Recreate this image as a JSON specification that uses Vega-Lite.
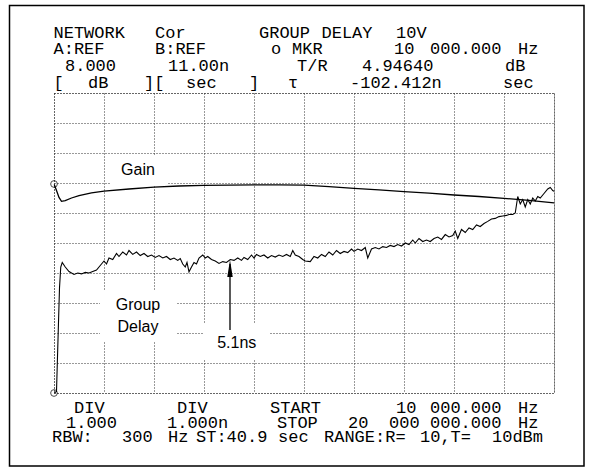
{
  "$schema": "https://vega.github.io/schema/vega-lite/v6.json",
  "width": 500,
  "height": 300,
  "autosize": "none",
  "padding": {"left": 54, "top": 93, "right": 42, "bottom": 78},
  "background": "white",
  "config": {
    "view": {"stroke": "#333", "strokeDash": [1, 2], "strokeWidth": 1}
  },
  "datasets": {
    "gain": [
      {"f": 0.01, "gain": 4.95}, {"f": 0.1, "gain": 4.75}, {"f": 0.2, "gain": 4.52}, {"f": 0.3, "gain": 4.39},
      {"f": 0.45, "gain": 4.41}, {"f": 0.7, "gain": 4.5}, {"f": 1.0, "gain": 4.58}, {"f": 1.5, "gain": 4.67},
      {"f": 2.0, "gain": 4.73}, {"f": 3.0, "gain": 4.8}, {"f": 4.0, "gain": 4.86}, {"f": 5.0, "gain": 4.9},
      {"f": 6.0, "gain": 4.92}, {"f": 7.0, "gain": 4.93}, {"f": 8.0, "gain": 4.935}, {"f": 9.0, "gain": 4.935},
      {"f": 10.0, "gain": 4.93}, {"f": 11.0, "gain": 4.88}, {"f": 12.0, "gain": 4.82}, {"f": 13.0, "gain": 4.77},
      {"f": 14.0, "gain": 4.71}, {"f": 15.0, "gain": 4.66}, {"f": 16.0, "gain": 4.6}, {"f": 17.0, "gain": 4.55},
      {"f": 18.0, "gain": 4.49}, {"f": 19.0, "gain": 4.42}, {"f": 20.0, "gain": 4.34}
    ],
    "delay": [
      {"f": 0.01, "delay": 1.0}, {"f": 0.1, "delay": 1.05}, {"f": 0.15, "delay": 2.5}, {"f": 0.22, "delay": 4.5},
      {"f": 0.27, "delay": 5.2}, {"f": 0.33, "delay": 5.35}, {"f": 0.45, "delay": 5.2}, {"f": 0.6, "delay": 5.05},
      {"f": 0.8, "delay": 4.95}, {"f": 0.95, "delay": 5.0}, {"f": 1.1, "delay": 4.97}, {"f": 1.25, "delay": 5.02},
      {"f": 1.4, "delay": 5.0}, {"f": 1.55, "delay": 5.05}, {"f": 1.7, "delay": 5.1}, {"f": 1.85, "delay": 5.25},
      {"f": 2.0, "delay": 5.4}, {"f": 2.1, "delay": 5.3}, {"f": 2.2, "delay": 5.5}, {"f": 2.35, "delay": 5.45},
      {"f": 2.5, "delay": 5.65}, {"f": 2.6, "delay": 5.55}, {"f": 2.75, "delay": 5.7}, {"f": 2.9, "delay": 5.6},
      {"f": 3.0, "delay": 5.75}, {"f": 3.15, "delay": 5.62}, {"f": 3.3, "delay": 5.7}, {"f": 3.45, "delay": 5.58},
      {"f": 3.6, "delay": 5.65}, {"f": 3.75, "delay": 5.55}, {"f": 3.9, "delay": 5.6}, {"f": 4.05, "delay": 5.52},
      {"f": 4.2, "delay": 5.58}, {"f": 4.35, "delay": 5.5}, {"f": 4.5, "delay": 5.55}, {"f": 4.65, "delay": 5.45},
      {"f": 4.8, "delay": 5.5}, {"f": 4.95, "delay": 5.42}, {"f": 5.05, "delay": 5.48}, {"f": 5.15, "delay": 5.3},
      {"f": 5.25, "delay": 5.2}, {"f": 5.32, "delay": 5.35}, {"f": 5.4, "delay": 5.04}, {"f": 5.5, "delay": 5.2},
      {"f": 5.6, "delay": 5.35}, {"f": 5.7, "delay": 5.3}, {"f": 5.8, "delay": 5.5}, {"f": 5.95, "delay": 5.6},
      {"f": 6.05, "delay": 5.5}, {"f": 6.15, "delay": 5.55}, {"f": 6.3, "delay": 5.45}, {"f": 6.45, "delay": 5.4},
      {"f": 6.6, "delay": 5.32}, {"f": 6.75, "delay": 5.38}, {"f": 6.9, "delay": 5.35}, {"f": 7.05, "delay": 5.45},
      {"f": 7.2, "delay": 5.42}, {"f": 7.35, "delay": 5.5}, {"f": 7.5, "delay": 5.42}, {"f": 7.6, "delay": 5.52},
      {"f": 7.75, "delay": 5.45}, {"f": 7.9, "delay": 5.6}, {"f": 8.0, "delay": 5.5}, {"f": 8.1, "delay": 5.62},
      {"f": 8.25, "delay": 5.55}, {"f": 8.4, "delay": 5.6}, {"f": 8.55, "delay": 5.5}, {"f": 8.7, "delay": 5.58},
      {"f": 8.85, "delay": 5.53}, {"f": 9.0, "delay": 5.6}, {"f": 9.15, "delay": 5.55}, {"f": 9.3, "delay": 5.62},
      {"f": 9.45, "delay": 5.55}, {"f": 9.55, "delay": 5.75}, {"f": 9.65, "delay": 5.6}, {"f": 9.8, "delay": 5.55},
      {"f": 9.95, "delay": 5.45}, {"f": 10.05, "delay": 5.4}, {"f": 10.25, "delay": 5.38}, {"f": 10.4, "delay": 5.55},
      {"f": 10.55, "delay": 5.5}, {"f": 10.7, "delay": 5.62}, {"f": 10.85, "delay": 5.55}, {"f": 11.0, "delay": 5.7},
      {"f": 11.15, "delay": 5.6}, {"f": 11.3, "delay": 5.75}, {"f": 11.45, "delay": 5.65}, {"f": 11.6, "delay": 5.72},
      {"f": 11.75, "delay": 5.68}, {"f": 11.9, "delay": 5.8}, {"f": 12.0, "delay": 5.72}, {"f": 12.15, "delay": 5.8},
      {"f": 12.3, "delay": 5.75}, {"f": 12.45, "delay": 5.85}, {"f": 12.55, "delay": 5.5}, {"f": 12.7, "delay": 5.8},
      {"f": 12.85, "delay": 5.85}, {"f": 13.0, "delay": 5.8}, {"f": 13.15, "delay": 5.88}, {"f": 13.3, "delay": 5.85},
      {"f": 13.45, "delay": 5.92}, {"f": 13.6, "delay": 5.88}, {"f": 13.75, "delay": 5.95}, {"f": 13.9, "delay": 5.9},
      {"f": 14.05, "delay": 6.0}, {"f": 14.2, "delay": 5.95}, {"f": 14.35, "delay": 6.1}, {"f": 14.45, "delay": 6.0},
      {"f": 14.6, "delay": 6.15}, {"f": 14.75, "delay": 6.05}, {"f": 14.9, "delay": 6.1}, {"f": 15.05, "delay": 6.05},
      {"f": 15.2, "delay": 6.15}, {"f": 15.35, "delay": 6.2}, {"f": 15.5, "delay": 6.12}, {"f": 15.65, "delay": 6.28},
      {"f": 15.8, "delay": 6.2}, {"f": 15.95, "delay": 6.25}, {"f": 16.05, "delay": 6.4}, {"f": 16.15, "delay": 6.15},
      {"f": 16.3, "delay": 6.45}, {"f": 16.45, "delay": 6.35}, {"f": 16.6, "delay": 6.5}, {"f": 16.75, "delay": 6.45},
      {"f": 16.9, "delay": 6.6}, {"f": 17.05, "delay": 6.55}, {"f": 17.2, "delay": 6.65}, {"f": 17.35, "delay": 6.72},
      {"f": 17.5, "delay": 6.8}, {"f": 17.65, "delay": 6.82}, {"f": 17.8, "delay": 6.88}, {"f": 17.95, "delay": 6.9},
      {"f": 18.1, "delay": 6.92}, {"f": 18.2, "delay": 6.95}, {"f": 18.35, "delay": 6.95}, {"f": 18.45, "delay": 7.0},
      {"f": 18.55, "delay": 7.55}, {"f": 18.65, "delay": 7.3}, {"f": 18.75, "delay": 7.45}, {"f": 18.85, "delay": 7.2},
      {"f": 18.95, "delay": 7.45}, {"f": 19.05, "delay": 7.3}, {"f": 19.15, "delay": 7.5}, {"f": 19.25, "delay": 7.4},
      {"f": 19.35, "delay": 7.55}, {"f": 19.45, "delay": 7.5}, {"f": 19.6, "delay": 7.65}, {"f": 19.75, "delay": 7.8},
      {"f": 19.85, "delay": 7.85}, {"f": 19.95, "delay": 7.75}, {"f": 20.0, "delay": 7.72}
    ],
    "header": [
      {"label": "NETWORK", "tx": -0.02, "ty": 9.85},
      {"label": "Cor", "tx": 4.04, "ty": 9.85},
      {"label": "GROUP", "tx": 8.2, "ty": 9.85},
      {"label": "DELAY", "tx": 10.7, "ty": 9.85},
      {"label": "10V", "tx": 13.68, "ty": 9.85},
      {"label": "A:REF", "tx": -0.02, "ty": 9.293},
      {"label": "B:REF", "tx": 4.04, "ty": 9.293},
      {"label": "o", "tx": 8.68, "ty": 9.293},
      {"label": "MKR", "tx": 9.52, "ty": 9.293},
      {"label": "10", "tx": 13.6, "ty": 9.293},
      {"label": "000.000", "tx": 15.04, "ty": 9.293},
      {"label": "Hz", "tx": 18.56, "ty": 9.293},
      {"label": "8.000", "tx": 0.44, "ty": 8.737},
      {"label": "11.00n", "tx": 4.56, "ty": 8.737},
      {"label": "T/R", "tx": 9.72, "ty": 8.737},
      {"label": "4.94640", "tx": 12.32, "ty": 8.737},
      {"label": "dB", "tx": 18.04, "ty": 8.737},
      {"label": "[", "tx": -0.02, "ty": 8.18},
      {"label": "dB", "tx": 1.36, "ty": 8.18},
      {"label": "][", "tx": 3.6, "ty": 8.18},
      {"label": "sec", "tx": 5.28, "ty": 8.18},
      {"label": "]", "tx": 7.8, "ty": 8.18},
      {"label": "τ", "tx": 9.36, "ty": 8.18},
      {"label": "-102.412n", "tx": 11.84, "ty": 8.18},
      {"label": "sec", "tx": 17.96, "ty": 8.18},
      {"label": "DIV", "tx": 0.8, "ty": -2.67},
      {"label": "DIV", "tx": 4.92, "ty": -2.67},
      {"label": "START", "tx": 8.64, "ty": -2.67},
      {"label": "10", "tx": 13.68, "ty": -2.67},
      {"label": "000.000", "tx": 15.04, "ty": -2.67},
      {"label": "Hz", "tx": 18.56, "ty": -2.67},
      {"label": "1.000", "tx": 0.48, "ty": -3.15},
      {"label": "1.000n", "tx": 4.52, "ty": -3.15},
      {"label": "STOP", "tx": 8.92, "ty": -3.15},
      {"label": "20", "tx": 11.76, "ty": -3.15},
      {"label": "000", "tx": 13.4, "ty": -3.15},
      {"label": "000.000", "tx": 15.04, "ty": -3.15},
      {"label": "Hz", "tx": 18.56, "ty": -3.15},
      {"label": "RBW:", "tx": -0.08, "ty": -3.64},
      {"label": "300", "tx": 2.72, "ty": -3.64},
      {"label": "Hz", "tx": 4.56, "ty": -3.64},
      {"label": "ST:40.9", "tx": 5.68, "ty": -3.64},
      {"label": "sec", "tx": 8.96, "ty": -3.64},
      {"label": "RANGE:R=", "tx": 10.8, "ty": -3.64},
      {"label": "10,T=", "tx": 14.64, "ty": -3.64},
      {"label": "10dBm", "tx": 17.52, "ty": -3.64}
    ],
    "boxes": [
      {"bx": 2.24, "bx2": 4.52, "by": 5.933, "by2": 4.9},
      {"bx": 1.84, "bx2": 4.92, "by": 1.433, "by2": -0.3},
      {"bx": 5.96, "bx2": 8.64, "by": 0.333, "by2": -0.9}
    ],
    "notes": [
      {"label": "Gain", "tx": 3.36, "ty": 5.267},
      {"label": "Group", "tx": 3.36, "ty": 0.767},
      {"label": "Delay", "tx": 3.36, "ty": 0.043},
      {"label": "5.1ns", "tx": 7.31, "ty": -0.51}
    ],
    "frame": [
      {"fx1": -1.78, "fx2": 21.2, "fy1": 10.917, "fy2": -4.433}
    ],
    "arrow": [
      {"f": 7.04, "d1": 3.1, "d2": 5.3, "head": 5.15}
    ]
  },
  "resolve": {"scale": {"y": "independent"}},
  "layer": [
    {
      "data": {"name": "frame"},
      "mark": {"type": "rect", "fill": "transparent", "stroke": "black", "strokeWidth": 1.5},
      "encoding": {
        "x": {"field": "fx1", "type": "quantitative", "scale": {"domain": [0, 20], "nice": false, "zero": false},
          "axis": {"values": [0, 2, 4, 6, 8, 10, 12, 14, 16, 18, 20], "grid": true, "gridDash": [1, 2], "gridColor": "#333", "gridWidth": 1, "labels": false, "ticks": false, "domain": false, "title": null}},
        "x2": {"field": "fx2"},
        "y": {"field": "fy1", "type": "quantitative", "scale": {"domain": [-2, 8], "nice": false, "zero": false},
          "axis": {"values": [-2, -1, 0, 1, 2, 3, 4, 5, 6, 7, 8], "grid": true, "gridDash": [1, 2], "gridColor": "#333", "gridWidth": 1, "labels": false, "ticks": false, "domain": false, "title": null}},
        "y2": {"field": "fy2"}
      }
    },
    {
      "data": {"name": "boxes"},
      "mark": {"type": "rect", "fill": "white", "stroke": null},
      "encoding": {
        "x": {"field": "bx", "type": "quantitative", "scale": {"domain": [0, 20], "nice": false, "zero": false}},
        "x2": {"field": "bx2"},
        "y": {"field": "by", "type": "quantitative", "scale": {"domain": [-2, 8], "nice": false, "zero": false}, "axis": null},
        "y2": {"field": "by2"}
      }
    },
    {
      "data": {"name": "header"},
      "mark": {"type": "text", "font": "Liberation Mono", "fontSize": 17, "align": "left", "baseline": "alphabetic", "color": "black"},
      "encoding": {
        "x": {"field": "tx", "type": "quantitative", "scale": {"domain": [0, 20], "nice": false, "zero": false}},
        "y": {"field": "ty", "type": "quantitative", "scale": {"domain": [-2, 8], "nice": false, "zero": false}, "axis": null},
        "text": {"field": "label"}
      }
    },
    {
      "data": {"name": "notes"},
      "mark": {"type": "text", "font": "Liberation Sans", "fontSize": 16, "align": "center", "baseline": "alphabetic", "color": "black"},
      "encoding": {
        "x": {"field": "tx", "type": "quantitative", "scale": {"domain": [0, 20], "nice": false, "zero": false}},
        "y": {"field": "ty", "type": "quantitative", "scale": {"domain": [-2, 8], "nice": false, "zero": false}, "axis": null},
        "text": {"field": "label"}
      }
    },
    {
      "data": {"name": "gain"},
      "mark": {"type": "line", "color": "black", "strokeWidth": 1.3},
      "encoding": {
        "x": {"field": "f", "type": "quantitative", "scale": {"domain": [0, 20], "nice": false, "zero": false}},
        "y": {"field": "gain", "type": "quantitative", "scale": {"domain": [-2, 8], "nice": false, "zero": false}, "axis": null}
      }
    },
    {
      "data": {"name": "delay"},
      "mark": {"type": "line", "color": "black", "strokeWidth": 1.1},
      "encoding": {
        "x": {"field": "f", "type": "quantitative", "scale": {"domain": [0, 20], "nice": false, "zero": false}},
        "y": {"field": "delay", "type": "quantitative", "scale": {"domain": [1, 11], "nice": false, "zero": false}, "axis": null}
      }
    },
    {
      "data": {"values": [{"f": 0, "gain": 4.967}]},
      "mark": {"type": "point", "shape": "circle", "filled": false, "color": "black", "size": 45, "strokeWidth": 1},
      "encoding": {
        "x": {"field": "f", "type": "quantitative", "scale": {"domain": [0, 20], "nice": false, "zero": false}},
        "y": {"field": "gain", "type": "quantitative", "scale": {"domain": [-2, 8], "nice": false, "zero": false}, "axis": null}
      }
    },
    {
      "data": {"values": [{"f": 0, "delay": 1.0}]},
      "mark": {"type": "point", "shape": "circle", "filled": false, "color": "black", "size": 45, "strokeWidth": 1},
      "encoding": {
        "x": {"field": "f", "type": "quantitative", "scale": {"domain": [0, 20], "nice": false, "zero": false}},
        "y": {"field": "delay", "type": "quantitative", "scale": {"domain": [1, 11], "nice": false, "zero": false}, "axis": null}
      }
    },
    {
      "data": {"name": "arrow"},
      "mark": {"type": "rule", "color": "black", "strokeWidth": 1.3},
      "encoding": {
        "x": {"field": "f", "type": "quantitative", "scale": {"domain": [0, 20], "nice": false, "zero": false}},
        "y": {"field": "d1", "type": "quantitative", "scale": {"domain": [1, 11], "nice": false, "zero": false}, "axis": null},
        "y2": {"field": "d2"}
      }
    },
    {
      "data": {"name": "arrow"},
      "mark": {"type": "point", "shape": "M0,-1L0.32,1L-0.32,1Z", "filled": true, "color": "black", "size": 289, "opacity": 1},
      "encoding": {
        "x": {"field": "f", "type": "quantitative", "scale": {"domain": [0, 20], "nice": false, "zero": false}},
        "y": {"field": "head", "type": "quantitative", "scale": {"domain": [1, 11], "nice": false, "zero": false}, "axis": null}
      }
    }
  ]
}
